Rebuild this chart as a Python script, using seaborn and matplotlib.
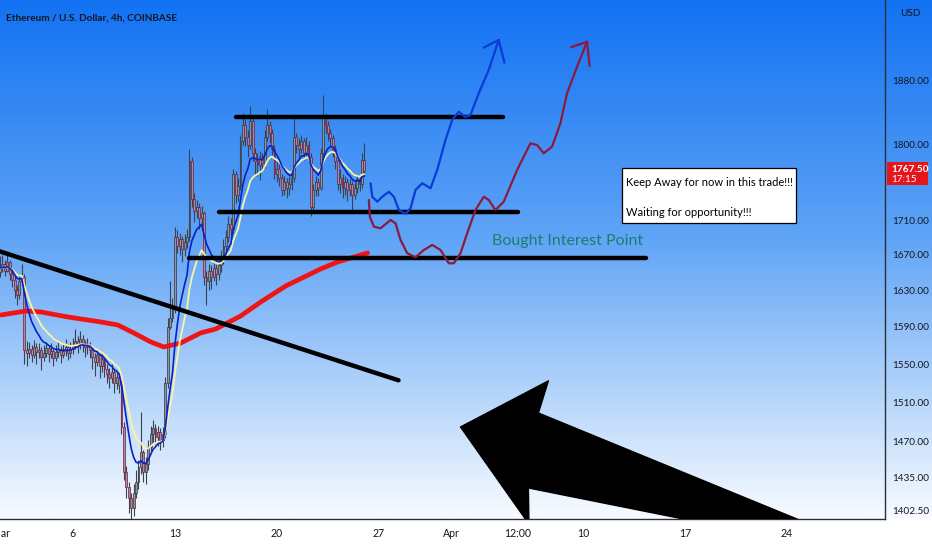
import numpy as np
import pandas as pd
import matplotlib
matplotlib.use("Agg")
import matplotlib.pyplot as plt
import seaborn as sns
from matplotlib import font_manager
from matplotlib.patches import Rectangle, Polygon
from matplotlib.colors import LinearSegmentedColormap
from matplotlib.transforms import IdentityTransform
from matplotlib.ticker import FixedLocator, NullLocator, NullFormatter

# ---- ETH/USD 4h candles (day 0 = Mar 1 00:00) ----
first_open = 1650
closes = [1655, 1660, 1652, 1662, 1648, 1642, 1630, 1625, 1640, 1645,
          1565, 1562, 1566, 1560, 1568, 1563, 1565, 1558, 1562, 1567,
          1561, 1564, 1557, 1563, 1566, 1560, 1564, 1568, 1562, 1566,
          1570, 1575, 1571, 1577, 1572, 1568, 1570, 1565, 1558, 1552,
          1560, 1548, 1555, 1545, 1540, 1535, 1542, 1530, 1536, 1528,
          1485, 1440, 1425, 1415, 1405, 1420, 1430, 1445, 1460, 1440,
          1448, 1465, 1478, 1484, 1475, 1480, 1472, 1478, 1530, 1590,
          1600, 1610, 1690, 1680, 1688, 1676, 1685, 1690, 1780, 1735,
          1720, 1725, 1712, 1718, 1645, 1640, 1652, 1645, 1655, 1648,
          1658, 1665, 1680, 1690, 1705, 1700, 1765, 1740, 1750, 1805,
          1825, 1810, 1800, 1830, 1790, 1780, 1775, 1785, 1778, 1810,
          1825, 1815, 1795, 1765, 1770, 1760, 1745, 1755, 1748, 1752,
          1760, 1810, 1800, 1795, 1805, 1790, 1800, 1785, 1725, 1745,
          1755, 1748, 1790, 1835, 1825, 1815, 1808, 1795, 1780, 1752,
          1760, 1748, 1755, 1745, 1752, 1740, 1748, 1758, 1752, 1782,
          1767.5]
highs = [1668, 1670, 1664, 1672, 1664, 1652, 1646, 1636, 1648, 1660,
         1648, 1575, 1574, 1570, 1576, 1572, 1573, 1568, 1570, 1574,
         1570, 1572, 1566, 1570, 1574, 1569, 1572, 1577, 1571, 1574,
         1578, 1588, 1580, 1585, 1581, 1576, 1578, 1574, 1568, 1562,
         1566, 1562, 1561, 1558, 1550, 1546, 1550, 1545, 1542, 1540,
         1532, 1490, 1446, 1430, 1420, 1428, 1442, 1452, 1500, 1462,
         1455, 1472, 1486, 1492, 1488, 1486, 1484, 1485, 1536, 1600,
         1640, 1622, 1702, 1698, 1695, 1692, 1694, 1700, 1795, 1785,
         1742, 1734, 1730, 1726, 1720, 1652, 1660, 1658, 1665, 1660,
         1666, 1675, 1688, 1698, 1715, 1712, 1770, 1768, 1760, 1812,
         1840, 1832, 1818, 1848, 1834, 1796, 1790, 1792, 1790, 1818,
         1845, 1830, 1820, 1800, 1782, 1776, 1765, 1762, 1760, 1762,
         1768, 1836, 1815, 1808, 1812, 1808, 1810, 1805, 1790, 1752,
         1762, 1760, 1796, 1862, 1840, 1830, 1820, 1812, 1800, 1785,
         1770, 1765, 1762, 1760, 1758, 1756, 1755, 1765, 1762, 1790,
         1802]
lows = [1645, 1650, 1646, 1650, 1642, 1634, 1622, 1614, 1620, 1636,
        1550, 1548, 1556, 1552, 1556, 1550, 1557, 1544, 1553, 1558,
        1552, 1556, 1548, 1553, 1558, 1551, 1556, 1559, 1554, 1557,
        1561, 1566, 1562, 1566, 1563, 1558, 1561, 1556, 1545, 1538,
        1548, 1535, 1542, 1536, 1530, 1525, 1530, 1520, 1524, 1520,
        1478, 1432, 1415, 1400, 1385, 1398, 1415, 1424, 1438, 1430,
        1428, 1442, 1460, 1470, 1468, 1466, 1462, 1465, 1474, 1525,
        1588, 1595, 1605, 1672, 1670, 1662, 1668, 1678, 1686, 1725,
        1708, 1712, 1700, 1698, 1636, 1614, 1630, 1632, 1640, 1636,
        1642, 1650, 1660, 1674, 1684, 1690, 1695, 1730, 1732, 1745,
        1800, 1798, 1785, 1795, 1780, 1765, 1762, 1757, 1768, 1772,
        1805, 1802, 1788, 1758, 1755, 1750, 1738, 1740, 1736, 1740,
        1745, 1755, 1790, 1785, 1790, 1782, 1785, 1778, 1715, 1718,
        1738, 1738, 1745, 1785, 1815, 1805, 1798, 1785, 1770, 1745,
        1742, 1736, 1740, 1732, 1738, 1718, 1735, 1742, 1744, 1748,
        1762]

# long (red) moving average, read at a few points
red_ma_days = [0.07, 1.78, 2.81, 4.66, 6.92, 8.08, 9.18, 10.35, 11.24,
               12.40, 13.77, 14.80, 16.51, 17.89, 19.60, 22.00, 23.16, 25.22]
red_ma_vals = [1602.8, 1607.2, 1606.1, 1600.6, 1595.2, 1591.9, 1583.3, 1573.6,
               1568.2, 1572.5, 1583.3, 1587.6, 1601.7, 1617.1, 1634.8, 1653.9,
               1661.8, 1672.0]

# ---- drawings (anchor points in day / price) ----
trend_days = [-0.6, 27.34]
trend_prices = [1677, 1533]
level_prices = [1835, 1719, 1666]
level_start = [16.17, 15.01, 12.95]
level_end = [34.54, 35.57, 44.34]

blue_path_days = [25.425, 25.542, 25.885, 26.227, 26.679, 27.022, 27.365, 27.824,
                  28.167, 28.509, 28.968, 29.537, 29.996, 30.565, 31.025, 31.477,
                  31.936, 32.279, 32.848, 33.533, 34.219]
blue_path_prices = [1753.4, 1737.4, 1731.5, 1737.4, 1743.3, 1737.4, 1721.7, 1717.1,
                    1723.7, 1745.4, 1753.4, 1747.4, 1769.3, 1805.9, 1830.7, 1841.1,
                    1834.1, 1836.9, 1864.3, 1894.2, 1933.3]
blue_head_days = [33.19, 34.219, 34.61]
blue_head_prices = [1923.2, 1933.3, 1903.6]

red_path_days = [25.308, 25.377, 25.651, 26.110, 26.796, 27.138, 27.481, 27.940,
                 28.509, 29.078, 29.654, 30.223, 30.792, 31.134, 31.594, 32.053,
                 32.622, 33.190, 33.533, 33.992, 34.561, 35.480, 36.391, 36.851,
                 37.303, 37.879, 38.448, 38.907, 39.593, 40.278]
red_path_prices = [1733.5, 1713.9, 1702.3, 1700.4, 1710.0, 1706.2, 1686.9, 1671.7,
                   1667.1, 1675.4, 1681.2, 1675.4, 1660.3, 1660.3, 1671.7, 1694.6,
                   1721.7, 1737.4, 1733.5, 1721.7, 1731.5, 1769.3, 1801.8, 1799.7,
                   1789.6, 1797.7, 1826.6, 1864.3, 1898.4, 1931.0]
red_head_days = [39.18, 40.278, 40.455]
red_head_prices = [1923.7, 1931.0, 1899.3]

big_arrow_days = [31.594, 37.625, 36.940, 58.19, 54.07, 36.254, 36.29]
big_arrow_prices = [1485.0, 1532.4, 1499.2, 1374.9, 1374.9, 1424.5, 1389.9]

tick_days = [0, 5, 12, 19, 26, 31, 35.5, 40, 47, 54]
tick_labels = ["Mar", "6", "13", "20", "27", "Apr", "12:00", "10", "17", "24"]
price_ticks = [1402.5, 1435, 1470, 1510, 1550, 1590, 1630, 1670, 1710, 1800, 1880]

# ---- style ----
sns.set_theme(style="white")
names = {f.name for f in font_manager.fontManager.ttflist}
base_font = "Lato" if "Lato" in names else "Liberation Sans"
plt.rcParams["font.family"] = [base_font, "DejaVu Sans"]

W, H = 932, 550
fig = plt.figure(figsize=(W / 100, H / 100), dpi=100, facecolor="white")

# gradient background
bg = fig.add_axes([0, 0, 1, 1], zorder=0)
bg.set_xlim(0, W)
bg.set_ylim(H, 0)
bg.axis("off")
cmap = LinearSegmentedColormap.from_list(
    "tv", [(0, "#1272f2"), (0.45, "#5ea3f6"), (0.75, "#b2d3fa"), (1, "#f8fbff")])
bg.imshow(np.linspace(0, 1, 256).reshape(-1, 1), cmap=cmap, aspect="auto",
          extent=[0, W, 519, 0])

ax = fig.add_axes([0, 1 - 519 / H, 885 / W, 519 / H], zorder=1)
ax.patch.set_visible(False)
ax.set_yscale("log")
ax.set_xlim(0.065, 60.72)
ax.set_ylim(1394.7, 1986.7)

# candles
closes_a = np.array(closes, dtype=float)
opens_a = np.array([first_open] + closes[:-1], dtype=float)
days = np.arange(len(closes)) / 6.0
up = closes_a >= opens_a
ax.vlines(days, lows, highs, color="#3c424d", lw=0.8, zorder=2)
body_lo = np.minimum(opens_a, closes_a)
body_h = np.maximum(np.abs(closes_a - opens_a), 1.5)
ax.bar(days[up], body_h[up], bottom=body_lo[up], width=0.13, color="#8e96a3",
       edgecolor="#30343e", linewidth=0.5, zorder=3)
ax.bar(days[~up], body_h[~up], bottom=body_lo[~up], width=0.13, color="#8e96a3",
       edgecolor="#8b1434", linewidth=0.5, zorder=3)

# moving averages
s = pd.Series(closes_a)
ema_fast = s.ewm(span=9, adjust=False).mean()
ema_slow = s.ewm(span=15, adjust=False).mean()
sns.lineplot(x=red_ma_days, y=red_ma_vals, ax=ax, color="#f01414", lw=3.4, zorder=4)
sns.lineplot(x=days, y=ema_slow.values, ax=ax, color="#fbf3a2", lw=1.3, zorder=5)
sns.lineplot(x=days, y=ema_fast.values, ax=ax, color="#0a22c4", lw=1.2, zorder=6)

# drawings
ax.plot(trend_days, trend_prices, color="black", lw=3.2, solid_capstyle="round", zorder=7)
for p, d0, d1 in zip(level_prices, level_start, level_end):
    ax.plot([d0, d1], [p, p], color="black", lw=3.2, solid_capstyle="round", zorder=7)
ax.plot(blue_path_days, blue_path_prices, color="#0b3ad6", lw=1.6,
        solid_joinstyle="round", zorder=7)
ax.plot(blue_head_days, blue_head_prices, color="#0b3ad6", lw=1.6, zorder=7)
ax.plot(red_path_days, red_path_prices, color="#8c1a3c", lw=1.6,
        solid_joinstyle="round", zorder=7)
ax.plot(red_head_days, red_head_prices, color="#8c1a3c", lw=1.6, zorder=7)
ax.add_patch(Polygon(list(zip(big_arrow_days, big_arrow_prices)), closed=True,
                     fc="black", ec="black", lw=1, joinstyle="round", zorder=8))

ax.add_patch(Rectangle((42.69, 1706.6), 54.62 - 42.69, 1771.8 - 1706.6,
                       fc="white", ec="black", lw=0.9, zorder=8))
ax.text(42.97, 1753.7, "Keep Away for now in this trade!!!", fontsize=8.0,
        color="black", va="center", ha="left", zorder=9)
ax.text(42.97, 1719.0, "Waiting for opportunity!!!", fontsize=8.0,
        color="black", va="center", ha="left", zorder=9)
ax.text(33.78, 1685.7, "Bought Interest Point", fontsize=11.5, color="#17806c",
        va="center", ha="left", zorder=9)

# axes styling
for side in ["top", "left"]:
    ax.spines[side].set_visible(False)
for side in ["bottom", "right"]:
    ax.spines[side].set_color("#2a2e39")
    ax.spines[side].set_linewidth(1.0)
ax.yaxis.tick_right()
ax.yaxis.set_major_locator(FixedLocator(price_ticks))
ax.yaxis.set_minor_locator(NullLocator())
ax.yaxis.set_minor_formatter(NullFormatter())
ax.set_yticklabels([f"{v:.2f}" for v in price_ticks])
ax.set_xticks(tick_days)
ax.set_xticklabels(tick_labels)
ax.tick_params(axis="y", length=0, pad=5, labelsize=7.2, colors="#131722")
ax.tick_params(axis="x", length=0, pad=6.5, labelsize=7.6, colors="#131722")
ax.set_xlabel("")
ax.set_ylabel("")
ax.grid(False)

fig.text(6 / W, 1 - 18 / H, "Ethereum / U.S. Dollar, 4h, COINBASE", fontsize=7.2,
         fontweight="bold", color="#131722", va="center", ha="left")
fig.text(900 / W, 1 - 14 / H, "USD", fontsize=7.2, color="#131722", va="center", ha="left")

# last price tag
ypix = ax.transData.transform((1.0, closes[-1]))[1]
fig.add_artist(Rectangle((887, ypix - 14), 41, 23, transform=IdentityTransform(),
                         fc="#e8141c", ec="none", zorder=10))
fig.text(891, ypix + 2, f"{closes[-1]:.2f}", transform=IdentityTransform(),
         fontsize=7.3, fontweight="bold", color="white", va="center", ha="left", zorder=11)
fig.text(891, ypix - 8, "17:15", transform=IdentityTransform(),
         fontsize=7.2, color="white", va="center", ha="left", zorder=11)

fig.savefig("out.png", dpi=100, facecolor="white")
